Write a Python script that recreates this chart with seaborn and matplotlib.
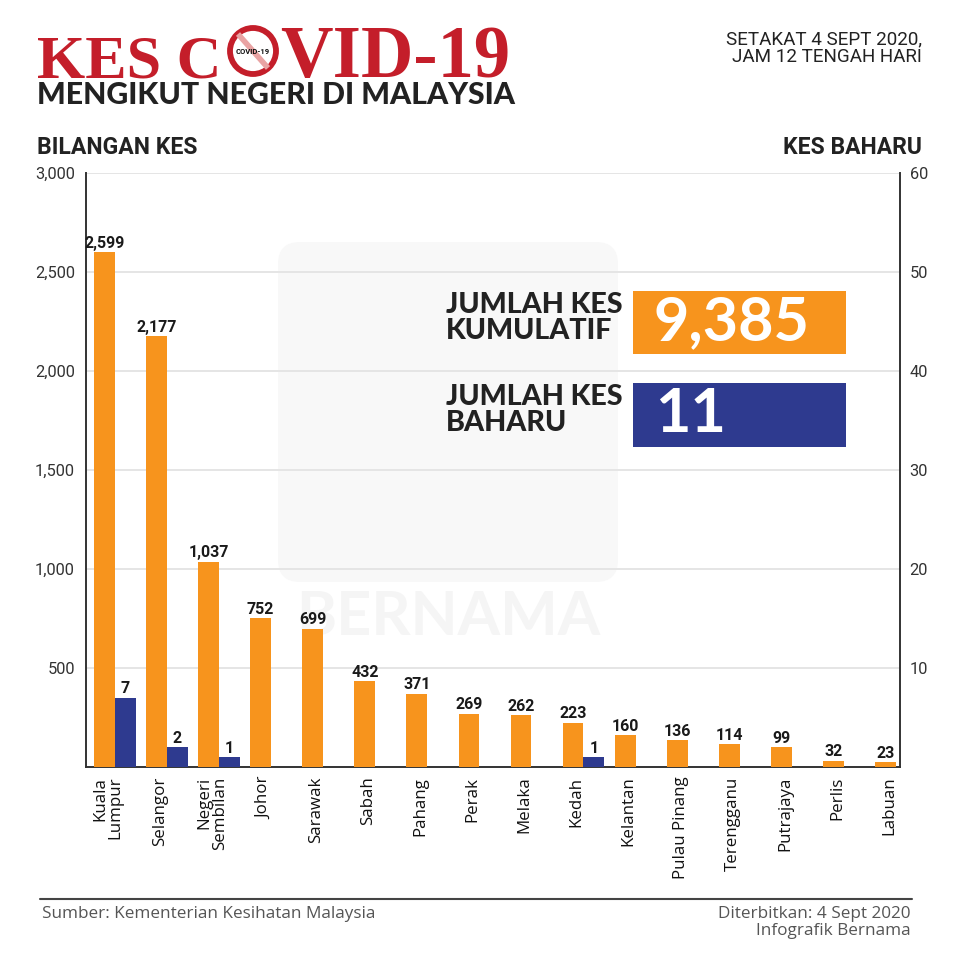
import matplotlib
matplotlib.use("Agg")
import matplotlib.pyplot as plt
from matplotlib import font_manager as fm
from matplotlib.patches import Rectangle, Circle, FancyBboxPatch
import seaborn as sns
import pandas as pd
import numpy as np

# ---------------- data ----------------
states = ["Kuala\nLumpur", "Selangor", "Negeri\nSembilan", "Johor", "Sarawak", "Sabah",
          "Pahang", "Perak", "Melaka", "Kedah", "Kelantan", "Pulau Pinang",
          "Terengganu", "Putrajaya", "Perlis", "Labuan"]
kumulatif = [2599, 2177, 1037, 752, 699, 432, 371, 269, 262, 223, 160, 136, 114, 99, 32, 23]
baharu = [7, 2, 1, 0, 0, 0, 0, 0, 0, 1, 0, 0, 0, 0, 0, 0]
left_ticks = [500, 1000, 1500, 2000, 2500, 3000]
right_ticks = [10, 20, 30, 40, 50, 60]
total_kumulatif = "9,385"
total_baharu = "11"

ORANGE = "#f7941d"
BLUE = "#2e3a8f"
RED = "#c41e2a"
DARK = "#222222"

sns.set_theme(style="white")
installed = {f.name for f in fm.fontManager.ttflist}
def pick(*names):
    for n in names:
        if n in installed:
            return n
    return "DejaVu Sans"

F_SERIF = pick("Liberation Serif", "DejaVu Serif")
F_HEAVY = pick("Lato", "Roboto", "Open Sans")
F_COND = pick("Roboto", "Liberation Sans Narrow", "Open Sans")
F_LIGHT = pick("Open Sans", "Lato", "Roboto")
plt.rcParams["font.family"] = [F_LIGHT, "DejaVu Sans"]

W, H = 959, 960
fig = plt.figure(figsize=(W / 100, H / 100), dpi=100)
fig.patch.set_facecolor("white")

def fx(x):
    return x / W
def fy(y):
    return 1 - y / H

# background (watermark) axes
bg = fig.add_axes([0, 0, 1, 1], zorder=0)
bg.set_xlim(0, W); bg.set_ylim(H, 0); bg.axis("off")
bg.add_patch(FancyBboxPatch((290, 254), 316, 316, boxstyle="round,pad=12,rounding_size=22",
                            fc="#f8f8f8", ec="none"))
bg.text(448, 617, "BERNAMA", ha="center", va="center", fontsize=44, fontweight="bold",
        color="#f5f5f5", family=F_HEAVY)

# ---------------- main axes ----------------
x0, x1, ytop, ybot = 86, 900, 173, 767
ax = fig.add_axes([fx(x0), fy(ybot), (x1 - x0) / W, (ybot - ytop) / H], zorder=1)
ax.patch.set_alpha(0)

df_k = pd.DataFrame({"negeri": states, "kes": kumulatif, "siri": "Kumulatif"})
df_b = pd.DataFrame({"negeri": states, "kes": baharu, "siri": "Baharu"})
hue_order = ["Kumulatif", "Baharu"]
pal = {"Kumulatif": ORANGE, "Baharu": BLUE}

sns.barplot(data=df_k, x="negeri", y="kes", hue="siri", hue_order=hue_order, order=states,
            palette=pal, saturation=1, width=0.8, dodge=True, legend=False, ax=ax,
            linewidth=0, edgecolor="none", zorder=3)
ax2 = ax.twinx()
ax2.set_zorder(2)
ax2.patch.set_alpha(0)
sns.barplot(data=df_b, x="negeri", y="kes", hue="siri", hue_order=hue_order, order=states,
            palette=pal, saturation=1, width=0.8, dodge=True, legend=False, ax=ax2,
            linewidth=0, edgecolor="none", zorder=3)

def main_container(a):
    for c in a.containers:
        if len(c) == len(states) and all(p is not None for p in c):
            return c
    return None

n = len(states)
ax.set_xlim(-0.555, 15.08)
ax2.set_xlim(-0.555, 15.08)
ax.set_ylim(0, 3000)
ax2.set_ylim(0, 60)
ax.set_yticks(left_ticks)
ax.set_yticklabels([f"{t:,}" for t in left_ticks], family=F_COND)
ax2.set_yticks(right_ticks)
ax2.set_yticklabels([str(t) for t in right_ticks], family=F_COND)
ax.set_xlabel(""); ax.set_ylabel(""); ax2.set_xlabel(""); ax2.set_ylabel("")

ax.yaxis.grid(True, color="#e3e3e3", lw=1.3, zorder=0)
ax.set_axisbelow(True)
ax2.grid(False)

for a in (ax, ax2):
    for s in a.spines.values():
        s.set_visible(False)
ax.spines["left"].set_visible(True)
ax.spines["bottom"].set_visible(True)
ax2.spines["right"].set_visible(True)
for s in (ax.spines["left"], ax.spines["bottom"], ax2.spines["right"]):
    s.set_color("#333333"); s.set_linewidth(1.4)

ax.set_xticks(np.arange(n) - 0.13)
ax.set_xticklabels(states, rotation=90, ha="center", va="top", multialignment="right",
                   color="#111111", family=F_LIGHT, linespacing=0.95)
ax.tick_params(axis="x", length=0, pad=7, labelsize=12.2)
ax.tick_params(axis="y", length=0, pad=8, labelsize=11.8, labelcolor="#333333")
ax2.tick_params(axis="y", length=0, pad=7, labelsize=11.8, labelcolor="#333333")
ax2.tick_params(axis="x", length=0, labelbottom=False, labeltop=False)

ck = main_container(ax)
cb = main_container(ax2)
if ck is not None:
    ax.bar_label(ck, labels=[f"{v:,}" for v in kumulatif], padding=1,
                 fontsize=11.5, fontweight="bold", color="#1a1a1a", family=F_COND)
if cb is not None:
    ax2.bar_label(cb, labels=[str(v) if v else "" for v in baharu], padding=1,
                  fontsize=11.5, fontweight="bold", color="#1a1a1a", family=F_COND)

fig.canvas.draw()
r = fig.canvas.get_renderer()

# ---------------- overlay (pixel coordinates) ----------------
ov = fig.add_axes([0, 0, 1, 1], zorder=5)
ov.set_xlim(0, W); ov.set_ylim(H, 0); ov.axis("off"); ov.patch.set_alpha(0)

def fit(t, width):
    bb = t.get_window_extent(r)
    t.set_fontsize(t.get_fontsize() * width / bb.width)

# title
t1 = ov.text(37, 77, "KES C", ha="left", va="baseline", fontsize=50, fontweight="bold",
             color=RED, family=F_SERIF)
t2 = ov.text(280, 77, "VID-19", ha="left", va="baseline", fontsize=50, fontweight="bold",
             color=RED, family=F_SERIF)
fit(t1, 185); fit(t2, 230)
ov.add_patch(Circle((253, 51), 23, fc="white", ec=RED, lw=4.2))
ov.plot([238, 268], [34, 68], color="#e9a3a3", lw=4, solid_capstyle="butt")
ov.text(253, 52, "COVID-19", ha="center", va="center", fontsize=5.5, fontweight="bold",
        color="#111111", family=F_COND)

t3 = ov.text(37, 104, "MENGIKUT NEGERI DI MALAYSIA", ha="left", va="baseline",
             fontsize=20, fontweight="black", color=DARK, family=F_HEAVY)
fit(t3, 478)

t4 = ov.text(922, 30, "SETAKAT 4 SEPT 2020,\nJAM 12 TENGAH HARI", ha="right", va="top",
             fontsize=12, color="#222222", family=F_COND, linespacing=1.0)
fit(t4, 196)

tbk = ov.text(37, 154, "BILANGAN KES", ha="left", va="baseline", fontsize=14, fontweight="bold",
              color=DARK, family=F_COND)
fit(tbk, 161)
tkb = ov.text(922, 154, "KES BAHARU", ha="right", va="baseline", fontsize=14, fontweight="bold",
              color=DARK, family=F_COND)
fit(tkb, 139)

# summary boxes
ov.add_patch(Rectangle((633, 291), 213, 63, fc=ORANGE, ec="none"))
ov.add_patch(Rectangle((633, 383), 213, 64, fc=BLUE, ec="none"))
tb1 = ov.text(654, 340, total_kumulatif, ha="left", va="baseline", fontsize=46, color="white",
              family=F_HEAVY, fontweight="bold")
fit(tb1, 156)
ov.text(655, 432, total_baharu, ha="left", va="baseline", fontsize=tb1.get_fontsize(),
        color="white", family=F_HEAVY, fontweight="bold")
tl1 = ov.text(446, 292, "JUMLAH KES\nKUMULATIF", ha="left", va="top", fontsize=15,
              fontweight="black", color=DARK, family=F_HEAVY, linespacing=1.0)
fit(tl1, 178)
ov.text(446, 384, "JUMLAH KES\nBAHARU", ha="left", va="top", fontsize=tl1.get_fontsize(),
        fontweight="black", color=DARK, family=F_HEAVY, linespacing=1.0)

# footer
ov.plot([40, 912], [899, 899], color="#444444", lw=1.5)
tf = ov.text(42, 918, "Sumber: Kementerian Kesihatan Malaysia", ha="left", va="baseline",
             fontsize=11, color="#555555", family=F_LIGHT)
fit(tf, 332)
ov.text(911, 918, "Diterbitkan: 4 Sept 2020", ha="right", va="baseline",
        fontsize=tf.get_fontsize(), color="#555555", family=F_LIGHT)
ov.text(911, 935, "Infografik Bernama", ha="right", va="baseline",
        fontsize=tf.get_fontsize(), color="#555555", family=F_LIGHT)

fig.savefig("out.png", dpi=100, facecolor="white")
